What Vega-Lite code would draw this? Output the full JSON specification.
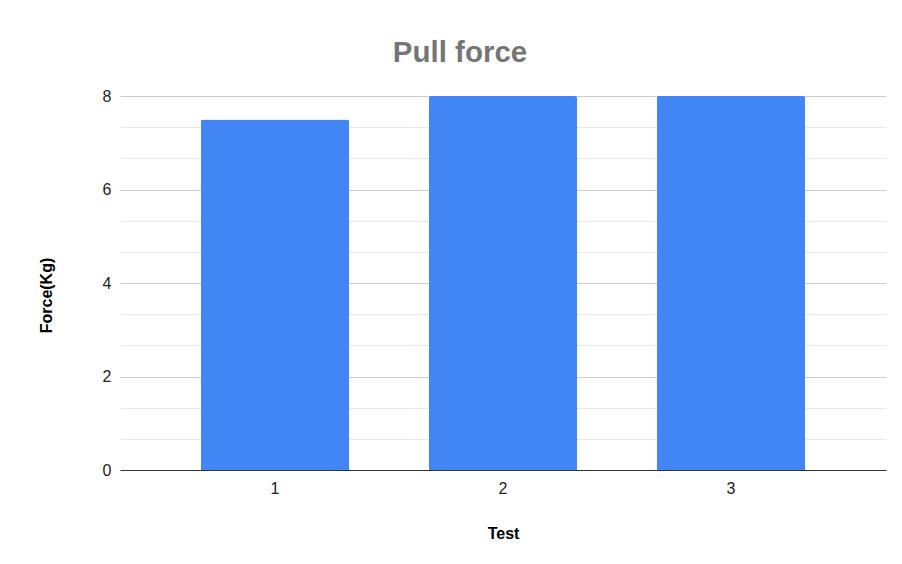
{
  "$schema": "https://vega.github.io/schema/vega-lite/v6.json",
  "width": 766,
  "height": 374,
  "autosize": "none",
  "padding": {"left": 120, "top": 96, "right": 16, "bottom": 94},
  "background": "white",
  "config": {
    "font": "Liberation Sans",
    "view": {"stroke": null},
    "axisX": {
      "title": "Test",
      "titleFont": "Liberation Sans",
      "titleFontSize": 16,
      "titleFontWeight": "bold",
      "titleColor": "#000000",
      "titlePadding": 29,
      "labelAngle": 0,
      "labelFont": "Liberation Sans",
      "labelFontSize": 16,
      "labelColor": "#222222",
      "labelPadding": 10,
      "ticks": false,
      "tickSize": 0,
      "domain": true,
      "domainColor": "#333333",
      "domainWidth": 1.2,
      "grid": false
    }
  },
  "title": {
    "text": "Pull force",
    "fontSize": 29.5,
    "font": "Liberation Sans",
    "fontWeight": "bold",
    "color": "#757575",
    "offset": 20,
    "dx": -43
  },
  "data": {
    "values": [
      {"Test": "1", "Force": 7.5},
      {"Test": "2", "Force": 8},
      {"Test": "3", "Force": 8}
    ]
  },
  "layer": [
    {
      "mark": {"type": "bar", "opacity": 0},
      "encoding": {
        "x": {
          "field": "Test",
          "type": "nominal",
          "scale": {"paddingInner": 0.35, "paddingOuter": 0.355},
          "axis": {"title": "Test"}
        },
        "y": {
          "field": "Force",
          "type": "quantitative",
          "scale": {"domain": [0, 8]},
          "axis": {
            "orient": "left",
            "values": [0.6667, 1.3333, 2.6667, 3.3333, 4.6667, 5.3333, 6.6667, 7.3333],
            "grid": true,
            "gridColor": "#e8e8e8",
            "gridWidth": 1,
            "labels": false,
            "ticks": false,
            "domain": false,
            "title": null
          }
        }
      }
    },
    {
      "mark": {"type": "bar", "color": "#4285F4", "cornerRadiusTopLeft": 2, "cornerRadiusTopRight": 2},
      "encoding": {
        "x": {
          "field": "Test",
          "type": "nominal",
          "scale": {"paddingInner": 0.35, "paddingOuter": 0.355},
          "axis": {"title": "Test"}
        },
        "y": {
          "field": "Force",
          "type": "quantitative",
          "scale": {"domain": [0, 8]},
          "axis": {
            "orient": "left",
            "values": [0, 2, 4, 6, 8],
            "grid": true,
            "gridColor": "#cccccc",
            "gridWidth": 1,
            "ticks": false,
            "tickSize": 0,
            "domain": false,
            "labelFont": "Liberation Sans",
            "labelFontSize": 16,
            "labelColor": "#222222",
            "labelPadding": 9,
            "title": "Force(Kg)",
            "titleFont": "Liberation Sans",
            "titleFontSize": 16,
            "titleFontWeight": "bold",
            "titleColor": "#000000",
            "titlePadding": 48,
            "titleY": 199
          }
        }
      }
    }
  ],
  "resolve": {"axis": {"y": "independent"}}
}
